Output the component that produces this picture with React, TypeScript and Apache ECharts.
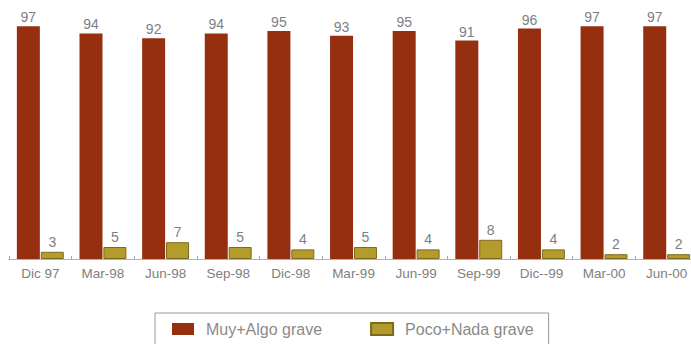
import React, { useEffect, useRef } from "react";
import * as echarts from "echarts";

const categories = ["Dic 97", "Mar-98", "Jun-98", "Sep-98", "Dic-98", "Mar-99", "Jun-99", "Sep-99", "Dic--99", "Mar-00", "Jun-00"];
const muyAlgo = [97, 94, 92, 94, 95, 93, 95, 91, 96, 97, 97];
const pocoNada = [3, 5, 7, 5, 4, 5, 4, 8, 4, 2, 2];
const seriesNames = ["Muy+Algo grave", "Poco+Nada grave"];

export default function App() {
  const ref = useRef<HTMLDivElement>(null);
  useEffect(() => {
    const chart = echarts.init(ref.current!, null, { renderer: "svg" });
    const font = "Liberation Sans, Arial, sans-serif";
    chart.setOption({
      animation: false,
      backgroundColor: "#ffffff",
      textStyle: { fontFamily: font },
      grid: { left: 9, top: 19, width: 689, height: 240, containLabel: false },
      xAxis: {
        type: "category",
        data: categories,
        axisLine: { lineStyle: { color: "#a9b3c6", width: 1 } },
        axisTick: { show: true, inside: true, length: 3, lineStyle: { color: "#9aa" } },
        axisLabel: { color: "#808080", fontSize: 13.5, margin: 7, interval: 0 },
      },
      yAxis: { type: "value", min: 0, max: 100, show: false, splitLine: { show: false } },
      legend: {
        data: seriesNames,
        left: 155,
        top: 313,
        padding: [8, 15, 12, 17],
        itemWidth: 22,
        itemHeight: 12,
        itemGap: 48,
        borderColor: "#9a9a9a",
        borderWidth: 1,
        icon: "rect",
        textStyle: { color: "#8a8a8a", fontSize: 16, fontFamily: font, padding: [0, 0, 0, 7] },
      },
      series: [
        {
          name: seriesNames[0],
          type: "bar",
          data: muyAlgo,
          barWidth: 23,
          barGap: "4%",
          itemStyle: { color: "#952f10" },
          label: { show: true, position: "top", distance: 2, color: "#7c7f88", fontSize: 14 },
        },
        {
          name: seriesNames[1],
          type: "bar",
          data: pocoNada,
          barWidth: 23,
          itemStyle: { color: "#b39c2c", borderColor: "#7d6a1c", borderWidth: 1 },
          label: { show: true, position: "top", distance: 3, color: "#7c7f88", fontSize: 14 },
        },
      ],
    });
    return () => chart.dispose();
  }, []);
  return (
    <div style={{ position: "absolute", left: 0, top: 0, width: 691, height: 344, overflow: "hidden" }}>
      <div ref={ref} style={{ width: 702, height: 344 }} />
    </div>
  );
}
